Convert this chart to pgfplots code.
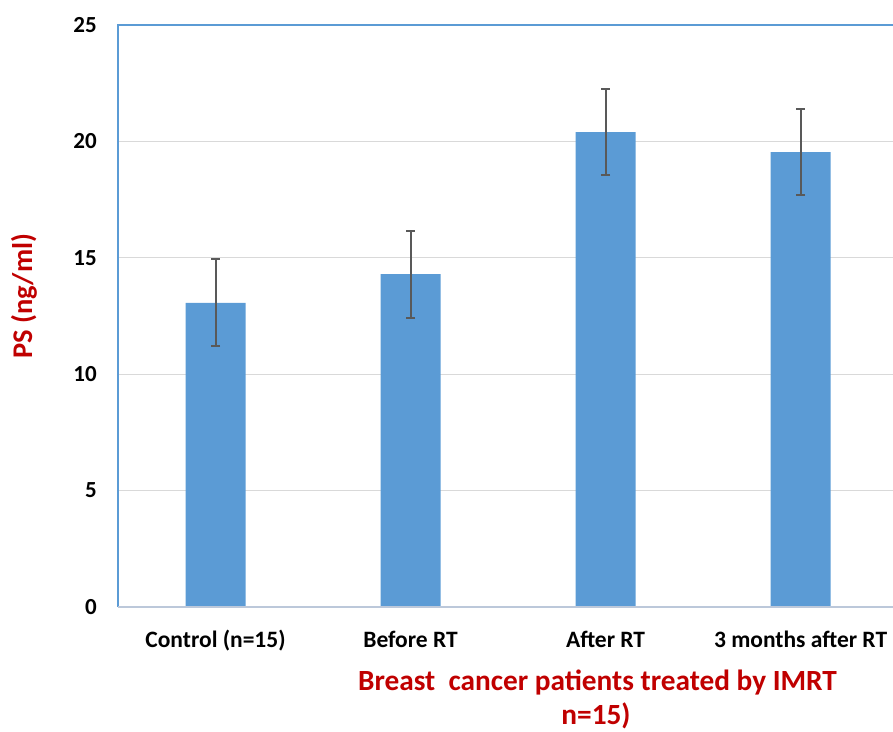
\documentclass[border=0pt]{standalone}
\usepackage{pgfplots}
\pgfplotsset{compat=1.18}
\usepackage{fontspec}
\setmainfont{Carlito}
\definecolor{barblue}{HTML}{5B9BD5}
\definecolor{darkred}{HTML}{C00000}
\definecolor{errgray}{HTML}{595959}
\definecolor{gridgray}{HTML}{D9D9D9}
\definecolor{baseln}{HTML}{BCC8DA}
\begin{document}
\begin{tikzpicture}
\begin{axis}[
  at={(0,0)}, anchor=south west,
  scale only axis, width=775pt, height=582pt,
  xmin=-0.5, xmax=3.474, ymin=0, ymax=25,
  ytick={0,5,10,15,20,25},
  xtick={0,1,2,3},
  xticklabels={Control (n=15), Before RT, After RT, 3 months after RT},
  major tick length=0pt,
  ymajorgrids, grid style={gridgray, line width=1.3pt},
  axis line style={draw=none},
  /pgf/number format/assume math mode=true,
  yticklabel style={font=\bfseries\fontsize{23}{23}\selectfont, anchor=east, inner sep=0pt, xshift=-21pt},
  xticklabel style={font=\bfseries\fontsize{23.5}{23.5}\selectfont, anchor=base, inner sep=0pt, yshift=-40pt},
  ybar, bar width=60pt,
  clip=false,
  after end axis/.code={
    \draw[barblue, line width=1.5pt] (rel axis cs:0,0) -- (rel axis cs:0,1) -- (rel axis cs:1,1);
    \draw[baseln, line width=1.5pt] (rel axis cs:0,0) -- (rel axis cs:1,0);
    \node[rotate=90, text=darkred, font=\bfseries\fontsize{28.5}{28.5}\selectfont] at ([xshift=-94pt]rel axis cs:0,0.534) {PS (ng/ml)};
    \node[anchor=base, text=darkred, font=\bfseries\fontsize{29.3}{29.3}\selectfont] at ([xshift=479.5pt,yshift=-83pt]rel axis cs:0,0) {Breast\ \ cancer patients treated by IMRT};
    \node[anchor=base, text=darkred, font=\bfseries\fontsize{29.3}{29.3}\selectfont] at ([xshift=478pt,yshift=-117pt]rel axis cs:0,0) {n=15)};
  }
]
\addplot[fill=barblue, draw=none, line width=2pt,
  error bars/.cd, y dir=both, y explicit,
  error mark=|,
  error bar style={line width=2pt, solid, draw=errgray},
  error mark options={draw=errgray, mark size=4.5pt, line width=2pt}]
coordinates {
  (0,13.06) +- (0,1.87)
  (1,14.30) +- (0,1.87)
  (2,20.40) +- (0,1.85)
  (3,19.54) +- (0,1.85)
};
\end{axis}
\pgfresetboundingbox
\path[use as bounding box] (-118pt,-124pt) rectangle (775pt,607pt);
\end{tikzpicture}
\end{document}
